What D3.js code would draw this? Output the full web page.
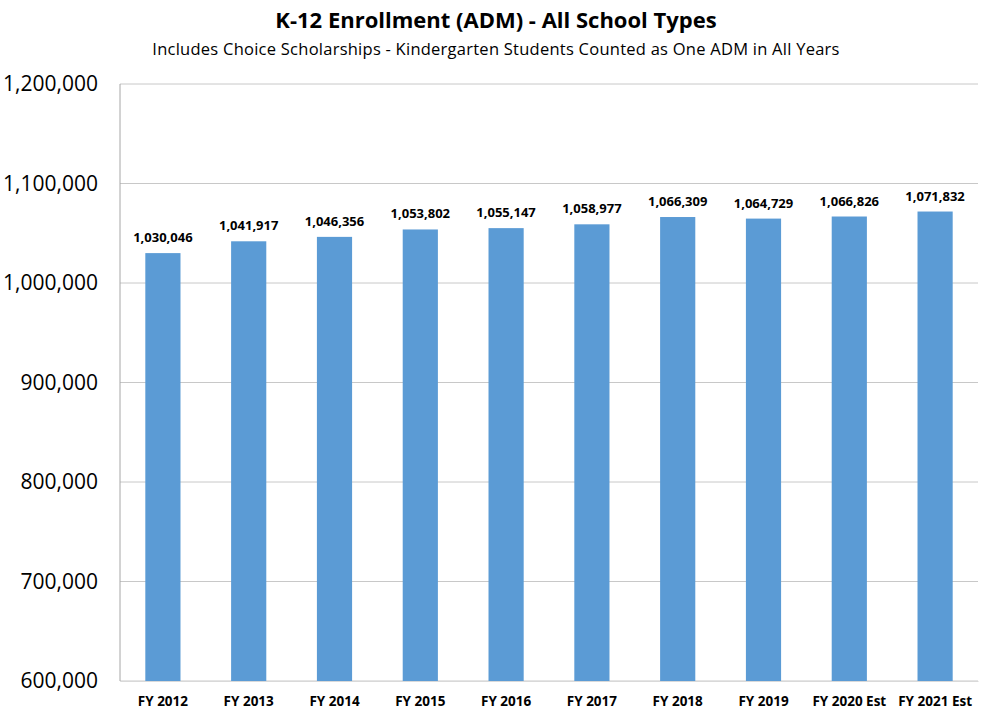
<!DOCTYPE html>
<html>
<head>
<meta charset="utf-8">
<script src="https://cdn.jsdelivr.net/npm/d3@7"></script>
<style>
  body { margin: 0; background: #fff; }
  svg { font-family: "Open Sans", "Liberation Sans", sans-serif; }
</style>
</head>
<body>
<svg id="chart"></svg>
<script>
// 데이터
const years = ["FY 2012", "FY 2013", "FY 2014", "FY 2015", "FY 2016",
  "FY 2017", "FY 2018", "FY 2019", "FY 2020 Est", "FY 2021 Est"];
const enrollment = [1030046, 1041917, 1046356, 1053802, 1055147,
  1058977, 1066309, 1064729, 1066826, 1071832];
const yTicks = [600000, 700000, 800000, 900000, 1000000, 1100000, 1200000];

const width = 985, height = 709;
const margin = { top: 84, right: 7, bottom: 28, left: 120 };
const innerW = width - margin.left - margin.right;
const innerH = height - margin.top - margin.bottom;

const svg = d3.select("#chart").attr("width", width).attr("height", height);

// 제목
svg.append("text")
  .attr("x", 496).attr("y", 28)
  .attr("text-anchor", "middle")
  .style("font-size", "22px").style("font-weight", "bold").style("fill", "#000")
  .text("K-12 Enrollment (ADM) - All School Types");
svg.append("text")
  .attr("x", 496).attr("y", 55)
  .attr("text-anchor", "middle")
  .style("font-size", "16.5px").style("fill", "#000")
  .style("letter-spacing", "0.25px")
  .text("Includes Choice Scholarships - Kindergarten Students Counted as One ADM in All Years");

const g = svg.append("g").attr("transform", `translate(${margin.left},${margin.top})`);

const x = d3.scaleBand().domain(years).range([0, innerW]).paddingInner(0.59).paddingOuter(0.295);
const y = d3.scaleLinear().domain([600000, 1200000]).range([innerH, 0]);

// 격자선
g.append("g")
  .selectAll("line")
  .data(yTicks)
  .join("line")
  .attr("x1", 0).attr("x2", innerW)
  .attr("y1", d => y(d)).attr("y2", d => y(d))
  .attr("stroke", "#c8c8c8").attr("stroke-width", 1);

// 세로축
g.append("line")
  .attr("x1", 0).attr("x2", 0).attr("y1", 0).attr("y2", innerH)
  .attr("stroke", "#a6a6a6");

// 막대
g.selectAll("rect.bar")
  .data(years.map((c, i) => ({ c, v: enrollment[i] })))
  .join("rect")
  .attr("class", "bar")
  .attr("x", d => x(d.c))
  .attr("y", d => y(d.v))
  .attr("width", x.bandwidth())
  .attr("height", d => innerH - y(d.v))
  .attr("fill", "#5b9bd5");

// 값 라벨
g.selectAll("text.val")
  .data(years.map((c, i) => ({ c, v: enrollment[i] })))
  .join("text")
  .attr("class", "val")
  .attr("x", d => x(d.c) + x.bandwidth() / 2)
  .attr("y", d => y(d.v) - 11)
  .attr("text-anchor", "middle")
  .style("font-size", "13px").style("font-weight", "bold").style("fill", "#000")
  .text(d => d3.format(",")(d.v));

// y축 라벨
const yAxis = g.append("g")
  .call(d3.axisLeft(y).tickValues(yTicks).tickFormat(d3.format(",")).tickSize(0).tickPadding(22));
yAxis.select(".domain").remove();
yAxis.selectAll("text")
  .style("font-size", "21px").style("font-family", "\"Open Sans\", sans-serif").style("fill", "#000");

// x축 라벨
const xAxis = g.append("g")
  .attr("transform", `translate(0,${innerH})`)
  .call(d3.axisBottom(x).tickSize(0).tickPadding(15));
xAxis.select(".domain").attr("stroke", "#d9d9d9");
xAxis.selectAll("text")
  .style("font-size", "13.5px").style("font-weight", "bold")
  .style("font-family", "\"Open Sans\", sans-serif").style("fill", "#000");
</script>
</body>
</html>
